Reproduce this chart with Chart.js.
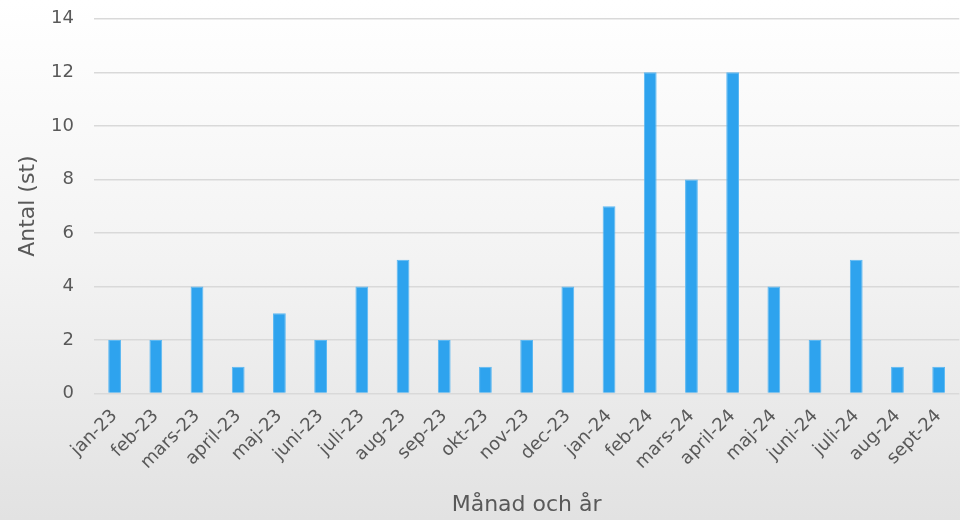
<!DOCTYPE html>
<html><head><meta charset="utf-8">
<script src="https://cdn.jsdelivr.net/npm/chart.js@4"></script>
<style>
html,body{margin:0;padding:0;overflow:hidden;width:960px;height:520px;}
body{background:linear-gradient(to bottom,#ffffff 0%,#f3f3f3 50%,#e2e2e2 100%);}
canvas{display:block;margin-top:-12px;}
</style></head>
<body>
<canvas id="c" width="966" height="532"></canvas>
<script>
const categories = ["jan-23","feb-23","mars-23","april-23","maj-23","juni-23","juli-23","aug-23","sep-23","okt-23","nov-23","dec-23","jan-24","feb-24","mars-24","april-24","maj-24","juni-24","juli-24","aug-24","sept-24"];
const antal = [2,2,4,1,3,2,4,5,2,1,2,4,7,12,8,12,4,2,5,1,1];
const yTicks = [0,2,4,6,8,10,12,14];
const FONT = "DejaVu Sans";
const TXT = "#595959";
new Chart(document.getElementById('c'), {
  type: 'bar',
  data: { labels: categories, datasets: [{ data: antal, backgroundColor: '#2ea3ee', borderColor: '#5cb8f2', borderWidth: 1, categoryPercentage: 1, barPercentage: 0.31 }] },
  options: {
    responsive: false, animation: false,
    layout: { autoPadding: false, padding: { left: 15, top: 6, right: 3, bottom: 2 } },
    plugins: { legend: { display: false }, tooltip: { enabled: false } },
    scales: {
      x: {
        grid: { display: false, drawTicks: false },
        border: { display: false },
        ticks: { color: TXT, font: { family: FONT, size: 18 }, minRotation: 45, maxRotation: 45, padding: 12, autoSkip: false },
        title: { display: true, text: 'Månad och år', color: TXT, font: { family: FONT, size: 22 }, padding: { top: 6, bottom: 0 } }
      },
      y: {
        min: 0, max: 14,
        afterBuildTicks: (s) => { s.ticks = yTicks.map(v => ({ value: v })); },
        afterFit: (s) => { s.width = 79; },
        grid: { color: '#d9d9d9', lineWidth: 1.5, drawTicks: false },
        border: { display: false },
        ticks: { color: TXT, font: { family: FONT, size: 18 }, padding: 20 },
        title: { display: true, text: 'Antal (st)', color: TXT, font: { family: FONT, size: 22 }, padding: { top: 0, bottom: 10 } }
      }
    }
  }
});
</script>
</body></html>
